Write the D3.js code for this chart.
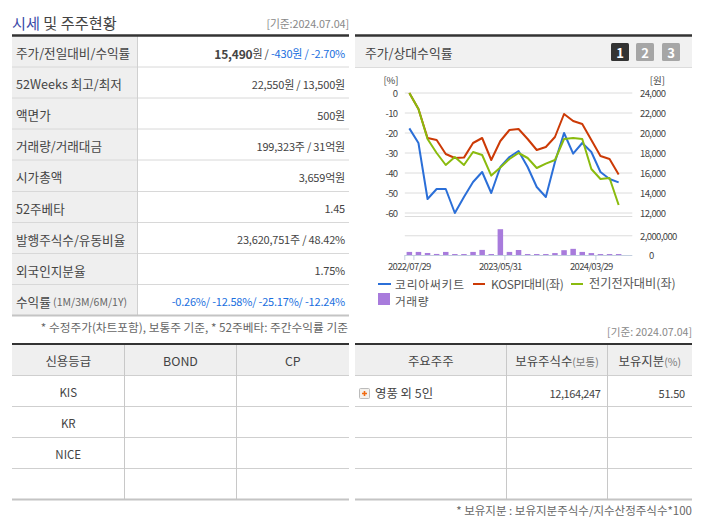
<!DOCTYPE html>
<html><head><meta charset="utf-8">
<script src="https://cdn.jsdelivr.net/npm/d3@7"></script>
<style>
html,body{margin:0;padding:0;background:#fff}
svg{display:block}
text{font-family:"Noto Sans CJK KR","Noto Sans",sans-serif;fill:#444;dominant-baseline:central}
</style></head><body><div id="c"></div>
<script>
const slots = d3.range(25);
const tickIdx = [0,10,20];
const tickLabels = ["2022/07/29","2023/05/31","2024/03/29"];
const company = [-17.7,-25,-53,-48,-48,-60,-52,-44.5,-39.5,-50,-37,-32,-29,-37,-47,-52,-34.5,-20,-30.3,-25,-29.5,-39.5,-43,-44.7];
const kospi = [0,-8,-22.5,-23.5,-30.5,-32.5,-32.3,-25,-22.5,-33.5,-24,-18.5,-18,-23,-28.5,-27,-22,-10.5,-14,-15.5,-23.5,-31.5,-33,-40.8];
const sector = [0,-8,-23,-30,-36,-32,-36,-29.5,-31,-41.3,-37.3,-33,-30,-32.5,-37.5,-35.3,-33.5,-23,-22.5,-23,-38,-43,-42.5,-56];
const volume = [320000,320000,210000,110000,320000,100000,100000,320000,530000,100000,2680000,320000,520000,100000,100000,100000,200000,500000,640000,320000,200000,100000,100000,100000];
const pctTicks = [0,-10,-20,-30,-40,-50,-60];
const wonTicks = [24000,22000,20000,18000,16000,14000,12000];
const volTicks = [0,2000000];
const legendNames = ["코리아써키트","KOSPI대비(좌)","전기전자대비(좌)","거래량"];
const colBlue="#2b6fd8", colRed="#cc3a06", colGreen="#8abb0e", colVol="#a87bdc";

const infoLabels = ["주가/전일대비/수익률","52Weeks 최고/최저","액면가","거래량/거래대금","시가총액","52주베타","발행주식수/유동비율","외국인지분율","수익률"];
const infoValues = [
 [["15,490","b"],["원 / ",""],["-430원 / -2.70%","u"]],
 [["22,550원 / 13,500원",""]],
 [["500원",""]],
 [["199,323주 / 31억원",""]],
 [["3,659억원",""]],
 [["1.45",""]],
 [["23,620,751주 / 48.42%",""]],
 [["1.75%",""]],
 [["-0.26%/ -12.58%/ -25.17%/ -12.24%","u"]]
];
const infoY = [36,67,98,129,160,191.5,222.5,253.5,284.5,315.5];
const gradeHead = ["신용등급","BOND","CP"];
const gradeRows = ["KIS","KR","NICE",""];
const holderHead = ["주요주주","보유주식수","보유지분"];
const holderHeadSub = ["","(보통)","(%)"];
const holderRow = ["영풍 외 5인","12,164,247","51.50"];
const tblY = [375.5,406.5,437.5,468.5,499.5];

const svg = d3.select("#c").append("svg").attr("width",702).attr("height",525);
const hline=(x1,x2,y,c,w)=>svg.append("line").attr("x1",x1).attr("x2",x2).attr("y1",y).attr("y2",y).attr("stroke",c).attr("stroke-width",w);
const vline=(x,y1,y2,c,w)=>svg.append("line").attr("x1",x).attr("x2",x).attr("y1",y1).attr("y2",y2).attr("stroke",c).attr("stroke-width",w||1);
const txt=(x,y,s,size,anchor,fill)=>svg.append("text").attr("x",x).attr("y",y).attr("font-size",size).attr("text-anchor",anchor||"start").style("fill",fill||"#444").text(s);

// title
const title = txt(12,22,"",15.2);
title.append("tspan").style("fill","#3b4aa8").text("시세");
title.append("tspan").style("fill","#444").text(" 및 주주현황");
txt(349,23,"[기준:2024.07.04]",10.8,"end","#888").style("letter-spacing","-0.1px");

// info table
svg.append("rect").attr("x",12).attr("y",36).attr("width",125.5).attr("height",279.5).attr("fill","#efefef");
infoY.slice(1,-1).forEach(y=>hline(12,349,y,"#d8d8d8",1));
vline(137.5,36,315,"#d0d0d0");
hline(12,349,35.5,"#333",2.5);
hline(12,349,315.5,"#c4c4c4",2);
infoLabels.forEach((l,i)=>{
  const y=(infoY[i]+infoY[i+1])/2+1;
  const t=txt(16,y,l,12.6);
  if(i===8) t.append("tspan").attr("font-size",10.5).style("fill","#666").text(" (1M/3M/6M/1Y)");
  const v=svg.append("text").attr("x",345).attr("y",y).attr("text-anchor","end").attr("font-size",11).style("letter-spacing","-0.2px");
  infoValues[i].forEach(([s,k])=>{
    v.append("tspan").text(s).attr("font-weight",k==="b"?"700":null).attr("font-size",k==="b"?12:null).style("fill",k==="u"?"#1a6fe0":"#444");
  });
});
txt(348,326.5,"* 수정주가(차트포함), 보통주 기준, * 52주베타: 주간수익률 기준",11.7,"end","#666");

// chart panel
svg.append("rect").attr("x",355).attr("y",36).attr("width",337).attr("height",31).attr("fill","#f1f1f1");
hline(355,692,35.5,"#333",2.5);
hline(355,692,67.5,"#dcdcdc",1);
txt(365,52.5,"주가/상대수익률",12.8);
[[611,"1","#333"],[636,"2","#a6a6a6"],[662,"3","#a6a6a6"]].forEach(([x,s,c])=>{
  svg.append("rect").attr("x",x).attr("y",43).attr("width",18).attr("height",18).attr("rx",1.5).attr("fill",c);
  svg.append("text").attr("x",x+9).attr("y",52).attr("text-anchor","middle").attr("font-size",13).attr("font-weight",700).style("fill","#fff").text(s);
});

const x = d3.scaleBand().domain(slots).range([404.8,632.3]);
const yPct = d3.scaleLinear().domain([-60,0]).range([213,93]);
const yWon = d3.scaleLinear().domain([12000,24000]).range([213,93]);
const yVol = d3.scaleLinear().domain([0,4000000]).range([255,216.5]);
const cx = i=>x(i)+x.bandwidth()/2;

const grid = svg.append("g");
pctTicks.forEach(t=>grid.append("line").attr("x1",404.8).attr("x2",632.3).attr("y1",yPct(t)).attr("y2",yPct(t)).attr("stroke","#dcdcdc"));
[2000000,4000000].forEach(t=>grid.append("line").attr("x1",404.8).attr("x2",632.3).attr("y1",yVol(t)).attr("y2",yVol(t)).attr("stroke","#dcdcdc"));

const styleAxis=g=>{g.select(".domain").remove();g.selectAll("line").remove();g.selectAll("text").attr("font-size",9.5).style("fill","#444").style("letter-spacing","-0.6px").attr("dy",0);};
svg.append("g").attr("transform","translate(397.5,-0.5)").call(d3.axisLeft(yPct).tickValues(pctTicks).tickSize(0).tickPadding(0).tickFormat(d=>String(d))).call(styleAxis);
svg.append("g").attr("transform","translate(640,-0.5)").call(d3.axisRight(yWon).tickValues(wonTicks).tickSize(0).tickPadding(0).tickFormat(d3.format(","))).call(styleAxis);
svg.append("g").attr("transform","translate(640,-0.5)").call(d3.axisRight(yVol).tickValues(volTicks).tickSize(0).tickPadding(0).tickFormat(d3.format(","))).call(styleAxis)
  .selectAll("text").filter(d=>d===0).attr("x",9);
txt(391,80,"[%]",9.5,"middle");
txt(665,80,"[원]",9.5,"end");

svg.append("g").selectAll("rect").data(volume).join("rect")
  .attr("x",(d,i)=>cx(i)-2.75).attr("width",5.5)
  .attr("y",d=>yVol(d)).attr("height",d=>yVol(0)-yVol(d)).attr("fill",colVol);

const line = d3.line().x((d,i)=>cx(i)).y(d=>yPct(d));
[[company,colBlue],[kospi,colRed],[sector,colGreen]].forEach(([s,c])=>{
  svg.append("path").attr("d",line(s)).attr("fill","none").attr("stroke",c).attr("stroke-width",2).attr("stroke-linejoin","round");
});

hline(404.8,632.3,255.5,"#c3cfdf",1);
const tickEdges=[0,1,11,21];
tickEdges.forEach(i=>vline(x(i),255,260,"#c3cfdf"));
tickIdx.forEach((idx,k)=>{
  svg.append("text").attr("x",cx(idx)).attr("y",266).attr("text-anchor","middle").attr("font-size",9.5).style("letter-spacing","-0.7px").text(tickLabels[k]);
});

// legend
[[378,391,colBlue,395,0,11.8,0.8],[473,485,colRed,491,1,12,-0.35],[571,583,colGreen,589,2,12.2,0]].forEach(([a,b,c,tx,k,fs,ls])=>{
  hline(a,b,284,c,2);
  txt(tx,283,legendNames[k],fs,"start","#555").style("letter-spacing",ls+"px");
});
svg.append("rect").attr("x",378).attr("y",293).attr("width",12).attr("height",12).attr("fill",colVol);
txt(395,300,legendNames[3],11.8,"start","#555").style("letter-spacing","0.5px");

// lower tables
function table(x0,x1,cols,head,sub){
  svg.append("rect").attr("x",x0).attr("y",345).attr("width",x1-x0).attr("height",30.5).attr("fill","#efefef");
  tblY.slice(0,-1).forEach(y=>hline(x0,x1,y,"#cfcfcf",1));
  cols.forEach(c=>vline(c,345,499,"#c8c8c8"));
  hline(x0,x1,344,"#333",2);
  hline(x0,x1,499.5,"#c4c4c4",2);
  const edges=[x0,...cols,x1];
  head.forEach((h,i)=>{
    const t=svg.append("text").attr("x",(edges[i]+edges[i+1])/2).attr("y",361).attr("text-anchor","middle").attr("font-size",12.4).text(h);
    if(sub&&sub[i]) t.append("tspan").attr("font-size",10.5).style("fill","#777").text(sub[i]);
  });
  return edges;
}
const e1=table(12,349,[124.5,236.5],gradeHead);
gradeRows.forEach((r,i)=>{ if(r) svg.append("text").attr("x",(e1[0]+e1[1])/2).attr("y",(tblY[i]+tblY[i+1])/2+1).attr("text-anchor","middle").attr("font-size",11.5).text(r); });
table(355,692,[506.5,607.5],holderHead,holderHeadSub);
svg.append("rect").attr("x",359.5).attr("y",388.5).attr("width",10).attr("height",10).attr("rx",1).attr("fill","#f4f1ec").attr("stroke","#bbb");
svg.append("path").attr("d","M362 393.5h5M364.5 391v5").attr("stroke","#f06a10").attr("stroke-width",1.6).attr("fill","none");
txt(375,392.5,holderRow[0],12.4);
txt(600.5,393,holderRow[1],11,"end").style("letter-spacing","-0.4px");
txt(685,393,holderRow[2],11,"end").style("letter-spacing","-0.2px");
txt(692,331,"[기준: 2024.07.04]",10.6,"end","#888");
txt(692,510,"* 보유지분 : 보유지분주식수/지수산정주식수*100",11.5,"end","#666");
</script></body></html>
